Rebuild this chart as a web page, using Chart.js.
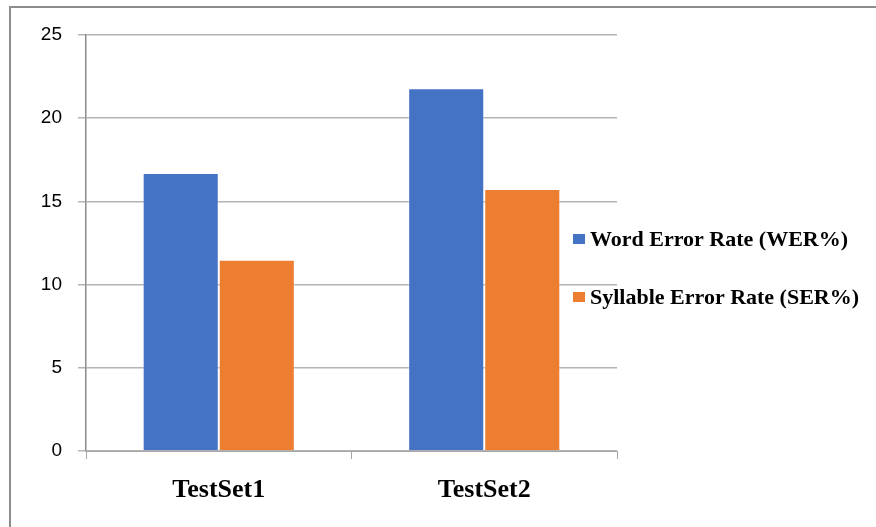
<!DOCTYPE html>
<html>
<head>
<meta charset="utf-8">
<script src="https://cdn.jsdelivr.net/npm/chart.js@4.4.1/dist/chart.umd.min.js"></script>
<style>
  body { margin: 0; background: #fff; }
  #wrap { position: relative; width: 876px; height: 527px; overflow: hidden; }
  #frame { position: absolute; left: 9px; top: 6px; right: 0; bottom: 0; border-top: 2px solid #8c8c8c; border-left: 2px solid #8c8c8c; pointer-events: none; }
</style>
</head>
<body>
<div id="wrap">
  <canvas id="myChart" width="876" height="527"></canvas>
  <div id="frame"></div>
</div>
<script>
const categories = ['TestSet1', 'TestSet2'];
const werValues = [16.7, 21.8];
const serValues = [11.5, 15.75];
const seriesNames = ['Word Error Rate (WER%)', 'Syllable Error Rate (SER%)'];
const yTicks = [0, 5, 10, 15, 20, 25];

// legend sits over the right side of the plot, so draw it by hand
const sideLegend = {
  id: 'sideLegend',
  afterDraw(chart) {
    const ctx = chart.ctx;
    const rows = [239, 297];
    ctx.save();
    ctx.font = 'bold 22px "Liberation Serif", "Times New Roman", serif';
    ctx.textBaseline = 'middle';
    chart.data.datasets.forEach((ds, i) => {
      ctx.fillStyle = ds.backgroundColor;
      ctx.fillRect(573, rows[i] - 5, 12, 10);
      ctx.fillStyle = '#000';
      ctx.fillText(ds.label, 590, rows[i] + 1);
    });
    ctx.restore();
  }
};

const ctx = document.getElementById('myChart');

new Chart(ctx, {
  type: 'bar',
  data: {
    labels: categories,
    datasets: [
      {
        label: seriesNames[0],
        data: werValues,
        backgroundColor: '#4472C4',
        borderColor: 'rgba(255,255,255,0.35)',
        borderWidth: 1,
      },
      {
        label: seriesNames[1],
        data: serValues,
        backgroundColor: '#ED7D31',
        borderColor: 'rgba(255,255,255,0.35)',
        borderWidth: 1,
      },
    ],
  },
  options: {
    responsive: false,
    animation: false,
    layout: { padding: { top: 35, right: 259, bottom: 0, left: 0 } },
    datasets: {
      bar: { categoryPercentage: 0.573, barPercentage: 1 }
    },
    plugins: {
      legend: { display: false },
      tooltip: { enabled: false },
    },
    scales: {
      x: {
        afterFit(scale) { scale.height = 76; },
        grid: {
          offset: true,
          drawOnChartArea: false,
          tickLength: 8,
          color: '#a6a6a6',
        },
        border: { color: '#a6a6a6', width: 1 },
        ticks: {
          padding: 16,
          color: '#000',
          font: { family: '"Liberation Serif", "Times New Roman", serif', size: 26, weight: 'bold' },
        },
      },
      y: {
        min: 0,
        max: 25,
        afterFit(scale) { scale.width = 86; },
        afterBuildTicks(scale) { scale.ticks = yTicks.map(v => ({ value: v })); },
        grid: {
          color: '#b4b4b4',
          lineWidth: 1.5,
          tickLength: 8,
        },
        border: { color: '#8c8c8c', width: 1.5 },
        ticks: {
          padding: 16,
          color: '#000',
          font: { family: '"Liberation Sans", Arial, sans-serif', size: 19 },
        },
      },
    },
  },
  plugins: [sideLegend],
});
</script>
</body>
</html>
